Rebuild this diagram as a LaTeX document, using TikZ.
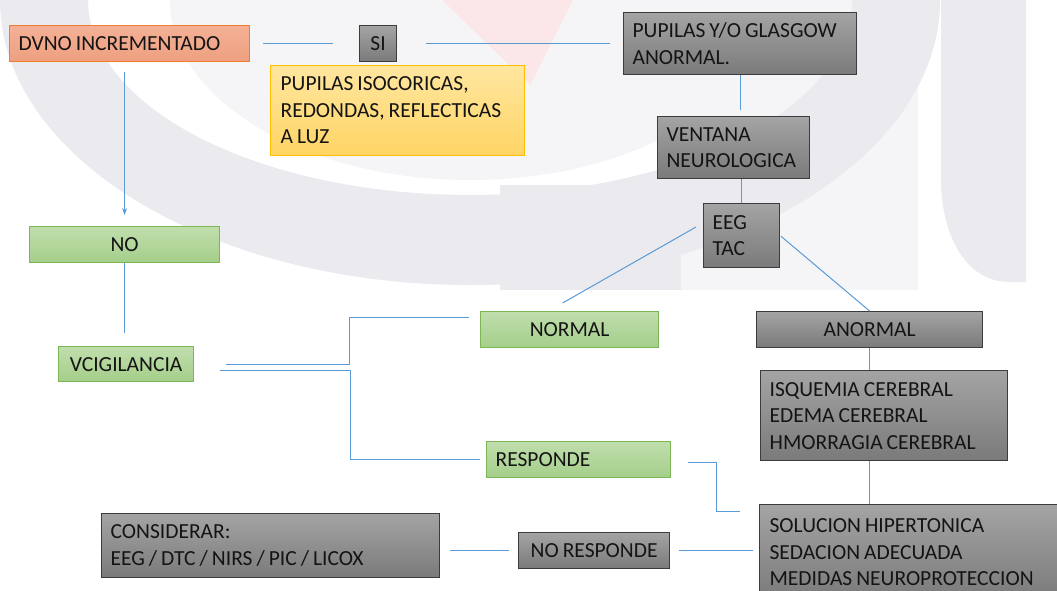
\documentclass[tikz,border=0pt]{standalone}
\usepackage{fontspec}
\setmainfont{Carlito}
\usetikzlibrary{calc,arrows.meta}
\definecolor{conn}{RGB}{91,155,213}
\definecolor{gborder}{RGB}{60,60,60}
\definecolor{gtop}{RGB}{164,164,164}
\definecolor{gbot}{RGB}{122,122,122}
\definecolor{grtop}{RGB}{192,222,172}
\definecolor{grbot}{RGB}{164,206,138}
\definecolor{grborder}{RGB}{125,183,85}
\definecolor{ytop}{RGB}{255,230,160}
\definecolor{ybot}{RGB}{255,212,100}
\definecolor{yborder}{RGB}{255,192,0}
\definecolor{otop}{RGB}{244,176,150}
\definecolor{obot}{RGB}{238,160,128}
\definecolor{oborder}{RGB}{237,125,49}
\definecolor{txt}{RGB}{20,20,20}
\definecolor{wm}{RGB}{234,234,239}
\definecolor{wmlight}{RGB}{245,245,248}
\definecolor{wmpink}{RGB}{251,231,231}
\tikzset{
  box/.style={draw, anchor=north west, inner xsep=9pt, inner ysep=0pt, line width=1.2pt,
    font=\fontsize{21.5}{26.5}\selectfont, text=txt,
    execute at begin node={\spaceskip=4pt\hyphenpenalty=10000\exhyphenpenalty=10000}},
  greybox/.style={box, draw=gborder, top color=gtop, bottom color=gbot},
  greenbox/.style={box, draw=grborder, top color=grtop, bottom color=grbot},
  yellowbox/.style={box, draw=yborder, top color=ytop, bottom color=ybot},
  orangebox/.style={box, draw=oborder, top color=otop, bottom color=obot},
  lbox/.style 2 args={minimum width=#1pt, minimum height=#2pt, text width=#1pt-18pt, align=left},
  cbox/.style 2 args={minimum width=#1pt, minimum height=#2pt, align=center},
  link/.style={draw=conn, line width=1pt},
}
\begin{document}
\begin{tikzpicture}[x=1pt,y=-1pt]
\useasboundingbox (0,0) rectangle (1057,591);
\fill[white] (0,0) rectangle (1057,591);
\begin{scope}
\clip (0,0) rectangle (1057,591);
% faint background watermark
\fill[wmlight] (681,0) rectangle (918,290);
\fill[wm, even odd rule] (470,0) ellipse [x radius=470, y radius=285] (470,0) ellipse [x radius=382, y radius=195];
\fill[wmlight] (470,0) ellipse [x radius=300, y radius=180];
\fill[wm] (500,185) rectangle (681,290);
\fill[wm] (941,0) -- (941,180) to[out=-90,in=180] (1010,282) -- (1026,282) -- (1026,0) -- cycle;
\fill[wmpink] (442,0) -- (573,0) -- (530,85) -- cycle;
% nodes
\node[orangebox, lbox={240}{36}] (dvno) at (9,25) {DVNO INCREMENTADO};
\node[greybox, cbox={37}{36}, inner xsep=0pt] (si) at (359,25) {SI};
\node[greybox, lbox={233}{62}] (pyo) at (623,12) {PUPILAS Y/O GLASGOW\\ANORMAL.};
\node[yellowbox, lbox={252}{90}, inner xsep=10pt] (piso) at (270,65) {PUPILAS ISOCORICAS,\\REDONDAS, REFLECTICAS\\A LUZ};
\node[greybox, lbox={152}{62}] (vent) at (657,116) {VENTANA\\NEUROLOGICA};
\node[greybox, lbox={76}{64}, inner xsep=8pt] (eeg) at (703,203) {EEG\\TAC};
\node[greenbox, cbox={190}{36}] (no) at (29,226) {NO};
\node[greenbox, cbox={135}{35}] (vcig) at (58,346) {VCIGILANCIA};
\node[greenbox, cbox={178}{36}] (normal) at (480,311) {NORMAL};
\node[greybox, cbox={226}{36}] (anormal) at (756,311) {ANORMAL};
\node[greybox, lbox={247}{90}] (isq) at (760,370) {ISQUEMIA CEREBRAL\\EDEMA CEREBRAL\\HMORRAGIA CEREBRAL};
\node[greenbox, lbox={184}{36}] (resp) at (486,441) {RESPONDE};
\node[greybox, lbox={310}{95}, inner xsep=10pt] (sol) at (759,504) {SOLUCION HIPERTONICA\\SEDACION ADECUADA\\MEDIDAS NEUROPROTECCION};
\node[greybox, cbox={151}{36}] (nores) at (518,532) {NO RESPONDE};
\node[greybox, lbox={338}{64}] (cons) at (101,513) {CONSIDERAR:\\EEG / DTC / NIRS / PIC / LICOX};
% connectors
\draw[link, shorten <=13pt, shorten >=26pt] (dvno.east |- si.west) -- (si.west);
\draw[link, shorten <=29pt, shorten >=13pt] (si.east) -- (si.east -| pyo.west);
\draw[link, shorten >=6pt] (pyo.south) -- (pyo.south |- vent.north);
\draw[link] (eeg.north |- vent.south) -- (eeg.north);
\draw[link] ($(eeg.north west)+(-7,24)$) -- ($(normal.north)+(-7,-8)$);
\draw[link, shorten <=1pt] (eeg.east) -- (anormal.north);
\draw[link, shorten <=10pt, shorten >=11pt, -{Stealth[length=7pt,width=5pt]}] (no.north |- dvno.south) -- (no.north);
\draw[link, shorten >=13pt] (no.south) -- (no.south |- vcig.north);
\draw[link] ($(vcig.east)+(32,0)$) -- ++(123,0) |- ($(normal.west)+(-11,-12)$);
\draw[link] ($(vcig.east)+(26,6)$) -- ++(130,0) |- ($(resp.west)+(-6,0)$);
\draw[link] ($(resp.east)+(17,3)$) -- ++(28,0) |- ($(sol.north west)+(-19,7)$);
\draw[link] (anormal.south) -- (anormal.south |- isq.north);
\draw[link] (anormal.south |- isq.south) -- (anormal.south |- sol.north);
\draw[link, shorten <=9pt, shorten >=6pt] (nores.east) -- (nores.east -| sol.west);
\draw[link, shorten <=9pt, shorten >=10pt] (nores.west) -- (nores.west -| cons.east);
\end{scope}
\end{tikzpicture}
\end{document}
